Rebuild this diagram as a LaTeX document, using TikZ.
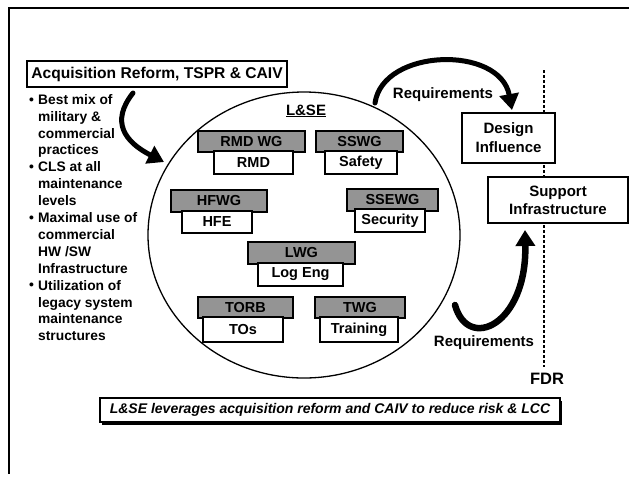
\documentclass[tikz,border=0pt]{standalone}
\usepackage{fontspec}
\setmainfont{Liberation Sans}
\usetikzlibrary{arrows.meta,shapes.geometric,shadows}
\tikzset{
  lbl/.style={inner sep=0pt, font=\bfseries\fontsize{15}{19}\selectfont},
  gbox/.style={draw=black, line width=1.6pt, fill=black!42, inner sep=0pt,
    font=\bfseries\fontsize{14.5}{17}\selectfont},
  wbox/.style={draw=black, line width=1.2pt, fill=white, inner sep=0pt,
    font=\bfseries\fontsize{14.5}{17}\selectfont,
    drop shadow={shadow xshift=1.4pt,shadow yshift=-1.4pt,fill=black,opacity=1}},
  bigarrow/.style={line width=5pt, line cap=round, -{Triangle[length=16pt,width=19pt]}},
  bul/.style={anchor=base west, inner sep=0pt, font=\bfseries\fontsize{13.8}{16.9}\selectfont},
}
\begin{document}
\begin{tikzpicture}[x=1pt,y=-1pt]
\useasboundingbox (0,0) rectangle (629,483);
% frame
\coordinate (fr1) at (629,8);
\coordinate (fr2) at (9,8);
\coordinate (fr3) at (9,474);
\draw[line width=2pt] (fr1) -- (fr2) -- (fr3);

% FDR dashed line
\coordinate (fdrtop) at (544,70);
\coordinate (fdrbot) at (544,367);
\draw[line width=1.2pt, dash pattern=on 3pt off 2pt] (fdrtop) -- (fdrbot);

% title box
\node[draw, line width=2pt, fill=white, minimum width=260, minimum height=26, inner sep=0pt,
  font=\bfseries\fontsize{15.6}{18}\selectfont] (acq) at (157,74) {Acquisition Reform, TSPR \& CAIV};

% bullet list
\node[anchor=north west, align=left, inner sep=0pt, font=\bfseries\fontsize{13.8}{16.9}\selectfont] (btext) at (38,94)
 {Best mix of\\military \&\\commercial\\practices\\CLS at all\\maintenance\\levels\\Maximal use of\\commercial\\HW /SW\\Infrastructure\\Utilization of\\legacy system\\maintenance\\structures};
\node[bul] (b1) at (29,104) {\textbullet};
\node[bul] (b2) at (29,171.6) {\textbullet};
\node[bul] (b3) at (29,222.3) {\textbullet};
\node[bul] (b4) at (29,289.9) {\textbullet};

% L&SE circle
\node[draw, ellipse, line width=1.3pt, minimum width=312, minimum height=286, inner sep=0pt] (lse) at (304,235) {};
\node[lbl, anchor=base] (lsetitle) at (306,115) {\underline{L\&SE}};

% working groups
\node[gbox, minimum width=107, minimum height=21] (rmdwg) at (251.5,141.5) {RMD WG};
\node[wbox, minimum width=79, minimum height=23] (rmd) at (253.5,162.5) {RMD};
\node[gbox, minimum width=87, minimum height=21] (sswg) at (359.5,141.5) {SSWG};
\node[wbox, minimum width=72, minimum height=23] (safety) at (361,162.5) {Safety};
\node[gbox, minimum width=96, minimum height=22] (hfwg) at (219,201) {HFWG};
\node[wbox, minimum width=70, minimum height=22] (hfe) at (217,222) {HFE};
\node[gbox, minimum width=91, minimum height=22] (ssewg) at (392.5,200) {SSEWG};
\node[wbox, minimum width=70, minimum height=23] (security) at (390,220.5) {Security};
\node[gbox, minimum width=107, minimum height=22] (lwg) at (301.5,253) {LWG};
\node[wbox, minimum width=85, minimum height=23] (logeng) at (300.5,274.5) {Log Eng};
\node[gbox, minimum width=95, minimum height=21] (torb) at (245.5,307.5) {TORB};
\node[wbox, minimum width=80, minimum height=25] (tos) at (243,329.5) {TOs};
\node[gbox, minimum width=90, minimum height=21] (twg) at (360,307.5) {TWG};
\node[wbox, minimum width=78, minimum height=25] (training) at (359,329.5) {Training};

% right boxes
\node[wbox, align=center, minimum width=93, minimum height=50, font=\bfseries\fontsize{15}{19}\selectfont] (design) at (508.5,138) {Design\\Influence};
\node[wbox, align=center, minimum width=140, minimum height=46, font=\bfseries\fontsize{15}{18}\selectfont] (support) at (558,200) {Support\\Infrastructure};

% arrows
\coordinate (a1s) at (133,93);
\coordinate (a1e) at (164,162);
\draw[bigarrow] (a1s) .. controls (110,122) and (125,142) .. (a1e);
\coordinate (a2s) at (375,103);
\coordinate (a2e) at (512,110);
\draw[bigarrow] (a2s) .. controls (383,48) and (500,45) .. (a2e);
\coordinate (a3s) at (455,305);
\coordinate (a3e) at (525,230);
\draw[bigarrow, line width=6.5pt] (a3s) .. controls (468,352) and (527,325) .. (a3e);

% labels
\node[lbl, anchor=base] (req1) at (443,98) {Requirements};
\node[lbl, anchor=base] (req2) at (484,346) {Requirements};
\node[anchor=base, inner sep=0pt, font=\bfseries\fontsize{16.5}{19}\selectfont] (fdr) at (547,384) {FDR};

% bottom statement
\node[draw, line width=1.2pt, fill=white, minimum width=460, minimum height=24, inner sep=0pt,
  font=\bfseries\itshape\fontsize{14}{17}\selectfont,
  drop shadow={shadow xshift=2pt,shadow yshift=-3pt,fill=black,opacity=1}] (stmt) at (330,410)
  {L\&SE leverages acquisition reform and CAIV to reduce risk \& LCC};
\end{tikzpicture}
\end{document}
